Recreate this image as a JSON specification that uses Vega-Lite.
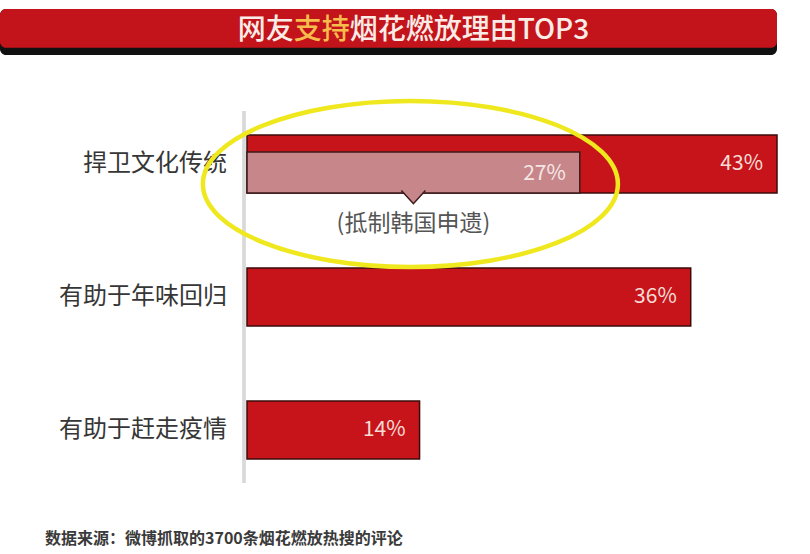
{
  "$schema": "https://vega.github.io/schema/vega-lite/v6.json",
  "background": "white",
  "padding": {"left": 0, "top": 9, "right": 5, "bottom": 5},
  "config": {
    "view": {"stroke": null},
    "font": "Noto Sans CJK SC",
    "text": {"font": "Noto Sans CJK SC"}
  },
  "title": {
    "text": "数据来源：微博抓取的3700条烟花燃放热搜的评论",
    "orient": "bottom",
    "anchor": "start",
    "dx": 45,
    "offset": 46,
    "fontSize": 16,
    "fontWeight": "bold",
    "color": "#3a3a3a",
    "font": "Noto Sans CJK SC"
  },
  "datasets": {
    "reasons": [
      {"reason": "捍卫文化传统", "share": 0.43},
      {"reason": "有助于年味回归", "share": 0.36},
      {"reason": "有助于赶走疫情", "share": 0.14}
    ],
    "note": [
      {"reason": "捍卫文化传统", "share": 0.27, "note": "(抵制韩国申遗)"}
    ]
  },
  "spacing": 36,
  "vconcat": [
    {
      "width": 777,
      "height": 46,
      "data": {"values": [{"title": "网友支持烟花燃放理由TOP3"}]},
      "layer": [
        {
          "mark": {"type": "rect", "color": "#111111", "cornerRadius": 6},
          "encoding": {
            "x": {"datum": 0, "type": "quantitative", "scale": {"domain": [0, 1]}, "axis": null},
            "x2": {"datum": 1},
            "y": {"datum": 0, "type": "quantitative", "scale": {"domain": [0, 1]}, "axis": null},
            "y2": {"datum": 1}
          }
        },
        {
          "mark": {"type": "rect", "color": "#c4141b", "cornerRadius": 6},
          "encoding": {
            "x": {"datum": 0, "type": "quantitative"},
            "x2": {"datum": 1},
            "y": {"datum": 0.16, "type": "quantitative"},
            "y2": {"datum": 1}
          }
        },
        {
          "mark": {"type": "text", "align": "right", "baseline": "middle", "fontSize": 28, "fontWeight": 500, "color": "#f9ece6"},
          "encoding": {
            "x": {"datum": 0.378, "type": "quantitative"},
            "y": {"datum": 0.53, "type": "quantitative"},
            "text": {"value": "网友"}
          }
        },
        {
          "mark": {"type": "text", "align": "left", "baseline": "middle", "fontSize": 28, "fontWeight": 500, "color": "#f6bd4c"},
          "encoding": {
            "x": {"datum": 0.378, "type": "quantitative"},
            "y": {"datum": 0.53, "type": "quantitative"},
            "text": {"value": "支持"}
          }
        },
        {
          "mark": {"type": "text", "align": "left", "baseline": "middle", "fontSize": 28, "fontWeight": 500, "color": "#f9ece6"},
          "encoding": {
            "x": {"datum": 0.45, "type": "quantitative"},
            "y": {"datum": 0.53, "type": "quantitative"},
            "text": {"value": "烟花燃放理由TOP3"}
          }
        }
      ]
    },
    {
      "width": 777,
      "height": 372,
      "data": {"name": "reasons"},
      "encoding": {
        "y": {
          "field": "reason",
          "type": "nominal",
          "sort": null,
          "axis": null,
          "scale": {
            "domain": ["捍卫文化传统", "有助于年味回归", "有助于赶走疫情"],
            "paddingInner": 0.564,
            "paddingOuter": 0.18
          }
        }
      },
      "layer": [
        {
          "mark": {"type": "rule", "color": "#d9d9d9", "strokeWidth": 3, "xOffset": -3},
          "encoding": {
            "x": {"datum": 0, "type": "quantitative", "scale": {"domain": [-0.2004, 0.43], "nice": false, "zero": false}, "axis": null},
            "y": null
          }
        },
        {
          "mark": {"type": "bar", "color": "#c6141a", "stroke": "#3b0b0b", "strokeWidth": 1.5},
          "encoding": {
            "x": {"field": "share", "type": "quantitative"},
            "x2": {"datum": 0}
          }
        },
        {
          "mark": {"type": "text", "align": "right", "baseline": "middle", "dx": -14, "fontSize": 21, "color": "#f7dcd6"},
          "encoding": {
            "x": {"field": "share", "type": "quantitative"},
            "text": {"field": "share", "type": "quantitative", "format": ".0%"}
          }
        },
        {
          "mark": {"type": "text", "align": "right", "baseline": "middle", "dx": -20, "fontSize": 24, "color": "#363636"},
          "encoding": {
            "x": {"datum": 0, "type": "quantitative"},
            "text": {"field": "reason", "type": "nominal"}
          }
        },
        {
          "data": {"name": "note"},
          "mark": {"type": "bar", "height": 41, "yOffset": 8.5, "color": "#c6868a", "stroke": "#3b1a1a", "strokeWidth": 1.5},
          "encoding": {
            "x": {"field": "share", "type": "quantitative"},
            "x2": {"datum": 0}
          }
        },
        {
          "data": {"name": "note"},
          "transform": [{"calculate": "datum.share / 2", "as": "mid"}],
          "mark": {"type": "point", "shape": "M-1,-0.2L0,0.9L1,-0.2", "size": 576, "filled": true, "fill": "#c6868a", "stroke": "#3b1a1a", "strokeWidth": 1.5, "opacity": 1, "yOffset": 29},
          "encoding": {
            "x": {"field": "mid", "type": "quantitative"}
          }
        },
        {
          "data": {"name": "note"},
          "mark": {"type": "text", "align": "right", "baseline": "middle", "dx": -14, "yOffset": 10, "fontSize": 21, "color": "#f5e6e6"},
          "encoding": {
            "x": {"field": "share", "type": "quantitative"},
            "text": {"field": "share", "type": "quantitative", "format": ".0%"}
          }
        },
        {
          "data": {"name": "note"},
          "transform": [{"calculate": "datum.share / 2", "as": "mid"}],
          "mark": {"type": "text", "align": "center", "baseline": "middle", "yOffset": 60, "fontSize": 23, "color": "#555555"},
          "encoding": {
            "x": {"field": "mid", "type": "quantitative"},
            "text": {"field": "note", "type": "nominal"}
          }
        },
        {
          "data": {"name": "note"},
          "transform": [{"calculate": "datum.share / 2", "as": "mid"}],
          "mark": {"type": "point", "shape": "M-1,0A1,0.4,0,1,1,1,0A1,0.4,0,1,1,-1,0Z", "size": 172225, "filled": false, "stroke": "#f0e81e", "strokeWidth": 4.5, "opacity": 1, "xOffset": -3, "yOffset": 20},
          "encoding": {
            "x": {"field": "mid", "type": "quantitative"}
          }
        }
      ]
    }
  ]
}
